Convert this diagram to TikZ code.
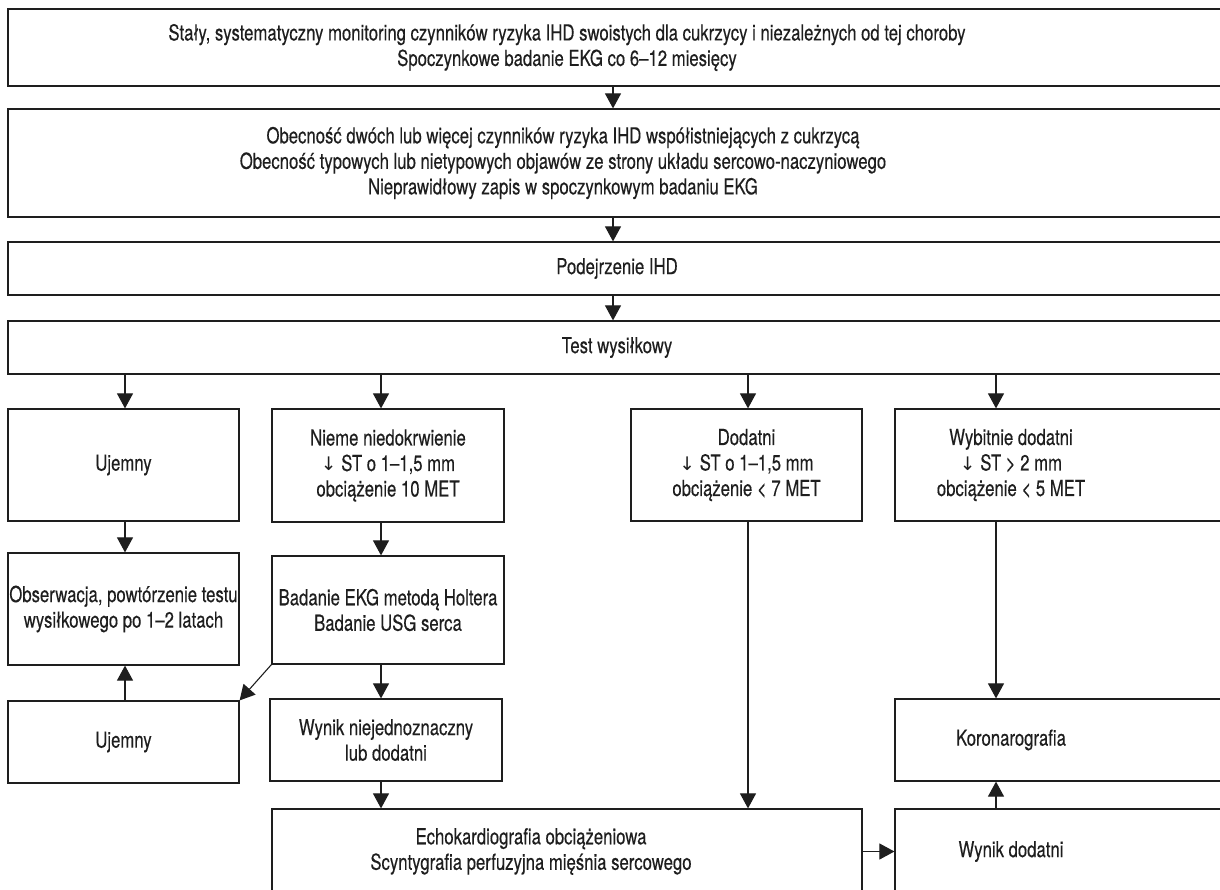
\documentclass[tikz,border=0pt]{standalone}
\usepackage{fontspec}
\setmainfont{TeX Gyre Heros}[FakeStretch=0.76,FakeBold=0.3]
\newfontfamily\arrowfont{DejaVu Sans}[Scale=0.85]
\usepackage{tikz}
\usetikzlibrary{arrows.meta}
\definecolor{ink}{RGB}{30,30,30}

\begin{document}
\begin{tikzpicture}[x=1pt,y=-1pt,
        box/.style={draw=ink, line width=1.2pt, rectangle, inner sep=0pt, align=center, text=ink,
            font=\fontsize{22}{25.5}\selectfont},
        txt/.style={inner sep=0pt, align=center, text=ink, font=\fontsize{22}{25.5}\selectfont},
        arr/.style={draw=ink, line width=1.1pt, -{Triangle[width=16pt,length=15pt]}}]
        \useasboundingbox (0,0) rectangle (1220,890);
        \clip (0,0) rectangle (1220,890);

        % arrow columns
        \coordinate (c0) at (613,0);
        \coordinate (c1) at (125,0);
        \coordinate (c2) at (381,0);
        \coordinate (c3) at (748,0);
        \coordinate (c4) at (996,0);

        % wide boxes at the top
        \node[box, minimum width=1232, minimum height=77] (mon) at (624,47.5) {};
        \node[txt] at (567,47.5) {Stały, systematyczny monitoring czynników ryzyka IHD swoistych dla cukrzycy i niezależnych od tej choroby\\
            Spoczynkowe badanie EKG co 6--12 miesięcy};
        \node[box, minimum width=1232, minimum height=108] (obec) at (624,163) {};
        \node[txt] at (563,163) {Obecność dwóch lub więcej czynników ryzyka IHD współistniejących z cukrzycą\\
            Obecność typowych lub nietypowych objawów ze strony układu sercowo-naczyniowego\\
            Nieprawidłowy zapis w spoczynkowym badaniu EKG};
        \node[box, minimum width=1232, minimum height=53] (podej) at (624,268.5) {};
        \node[txt] at (617,268.5) {Podejrzenie IHD};
        \node[box, minimum width=1232, minimum height=53] (test) at (624,347.5) {};
        \node[txt] at (617,347.5) {Test wysiłkowy};

        % first row
        \node[box, minimum width=231, minimum height=112] (uj1) at (123.5,465) {Ujemny};
        \node[box, minimum width=232, minimum height=113] (nieme) at (388,465.5) {Nieme niedokrwienie\\
            {\arrowfont ↓} ST o 1--1,5 mm\\ obciążenie 10 MET};
        \node[box, minimum width=231, minimum height=112] (dod) at (746.5,465) {Dodatni\\
            {\arrowfont ↓} ST o 1--1,5 mm\\ obciążenie < 7 MET};
        \node[box, minimum width=345, minimum height=112] (wyb) at (1067.5,465) {};
        \node[txt] at (1011,465) {Wybitnie dodatni\\
            {\arrowfont ↓} ST > 2 mm\\ obciążenie < 5 MET};

        % second row
        \node[box, minimum width=231, minimum height=112] (obs) at (123.5,609) {Obserwacja, powtórzenie testu\\ wysiłkowego po 1--2 latach};
        \node[box, minimum width=232, minimum height=108] (holter) at (388,610) {Badanie EKG metodą Holtera\\ Badanie USG serca};

        % third row
        \node[box, minimum width=231, minimum height=82] (uj2) at (123.5,742) {Ujemny};
        \node[box, minimum width=232, minimum height=82] (wynik) at (386,740) {Wynik niejednoznaczny\\ lub dodatni};
        \node[box, minimum width=345, minimum height=82] (koro) at (1067.5,740) {};
        \node[txt] at (1011,740) {Koronarografia};

        % bottom row
        \node[box, minimum width=590, minimum height=85] (echo) at (567,851.5) {};
        \node[txt] at (531,851.5) {Echokardiografia obciążeniowa\\ Scyntygrafia perfuzyjna mięśnia sercowego};
        \node[box, minimum width=345, minimum height=85] (wdod) at (1067.5,851.5) {};
        \node[txt] at (1011,851.5) {Wynik dodatni};

        % connectors
        \draw[arr] (mon.south -| c0) -- (obec.north -| c0);
        \draw[arr] (obec.south -| c0) -- (podej.north -| c0);
        \draw[arr] (podej.south -| c0) -- (test.north -| c0);
        \foreach \c/\b in {c1/uj1, c2/nieme, c3/dod, c4/wyb}
            \draw[arr] (test.south -| \c) -- (\b.north -| \c);
        \draw[arr] (uj1.south -| c1) -- (obs.north -| c1);
        \draw[arr] (uj2.north -| c1) -- (obs.south -| c1);
        \draw[arr] (nieme.south -| c2) -- (holter.north -| c2);
        \draw[arr] (holter.south -| c2) -- (wynik.north -| c2);
        \draw[arr] (holter.south west) -- (uj2.north east);
        \draw[arr] (wynik.south -| c2) -- (echo.north -| c2);
        \draw[arr] (dod.south -| c3) -- (echo.north -| c3);
        \draw[arr] (wyb.south -| c4) -- (koro.north -| c4);
        \draw[arr] (wdod.north -| c4) -- (koro.south -| c4);
        \draw[arr] (echo.east) -- (wdod.west);
    \end{tikzpicture}
\end{document}
